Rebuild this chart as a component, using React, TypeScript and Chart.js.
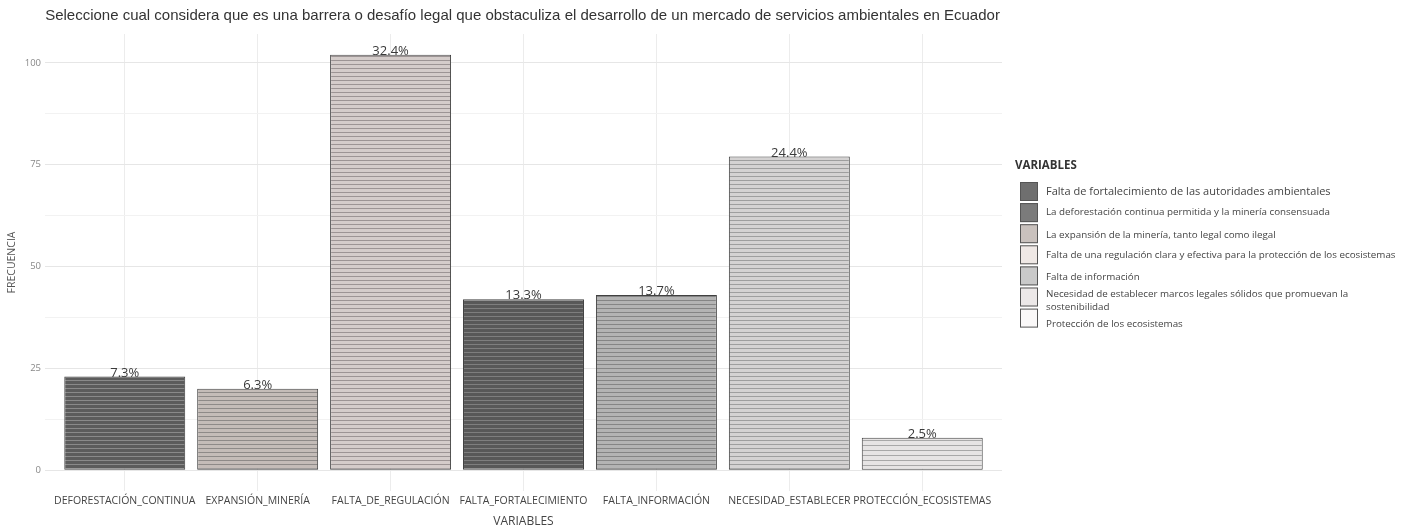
import React, { useEffect, useRef } from "react";
import { Chart, registerables } from "chart.js";

Chart.register(...registerables);

const TITLE =
  "Seleccione cual considera que es una barrera o desafío legal que obstaculiza el desarrollo de un mercado de servicios ambientales en Ecuador";

const categories = [
  "DEFORESTACIÓN_CONTINUA",
  "EXPANSIÓN_MINERÍA",
  "FALTA_DE_REGULACIÓN",
  "FALTA_FORTALECIMIENTO",
  "FALTA_INFORMACIÓN",
  "NECESIDAD_ESTABLECER",
  "PROTECCIÓN_ECOSISTEMAS",
];

const frequencies = [23, 20, 102, 42, 43, 77, 8];

const percentLabels = ["7.3%", "6.3%", "32.4%", "13.3%", "13.7%", "24.4%", "2.5%"];

const yTickValues = [0, 12.5, 25, 37.5, 50, 62.5, 75, 87.5, 100];

const legendTitle = "VARIABLES";

const legendLabels: string[][] = [
  ["Falta de fortalecimiento de las autoridades ambientales"],
  ["La deforestación continua permitida y la minería consensuada"],
  ["La expansión de la minería, tanto legal como ilegal"],
  ["Falta de una regulación clara y efectiva para la protección de los ecosistemas"],
  ["Falta de información"],
  ["Necesidad de establecer marcos legales sólidos que promuevan la", "sostenibilidad"],
  ["Protección de los ecosistemas"],
];

const legendColors = ["#6f6f6f", "#7b7b7b", "#c9c1bd", "#efe8e5", "#c9c9c9", "#ece8e8", "#faf8f8"];

// stripe palettes per bar: [base, line, period]
const barStripes: [string, string, number][] = [
  ["#5c5c5c", "#8a8a8a", 4],
  ["#c4bcb8", "#8e8a88", 4],
  ["#d4ccca", "#9c9494", 4],
  ["#585858", "#7e7e7e", 4],
  ["#b4b4b4", "#858585", 4],
  ["#d4d2d2", "#9e9e9e", 4],
  ["#e6e4e4", "#a8a8a8", 5],
];

function makePattern(ctx: CanvasRenderingContext2D, base: string, line: string, period: number) {
  const c = document.createElement("canvas");
  c.width = 4;
  c.height = period;
  const g = c.getContext("2d")!;
  g.fillStyle = base;
  g.fillRect(0, 0, 4, period);
  g.fillStyle = line;
  g.fillRect(0, 0, 4, 1);
  return ctx.createPattern(c, "repeat") as CanvasPattern;
}

const FONT = "'Open Sans', 'DejaVu Sans', sans-serif";

export default function App() {
  const ref = useRef<HTMLCanvasElement | null>(null);

  useEffect(() => {
    document.body.style.margin = "0";
    const canvas = ref.current!;
    const ctx = canvas.getContext("2d")!;
    const patterns = barStripes.map(([b, l, p]) => makePattern(ctx, b, l, p));

    const labelPlugin = {
      id: "pctLabels",
      afterDatasetsDraw(chart: any) {
        const meta = chart.getDatasetMeta(0);
        const c = chart.ctx;
        c.save();
        c.font = `13px ${FONT}`;
        c.fillStyle = "#3a3a3a";
        c.textAlign = "center";
        c.textBaseline = "bottom";
        meta.data.forEach((bar: any, i: number) => {
          c.fillText(percentLabels[i], bar.x, bar.y + 3);
        });
        c.restore();
      },
    };

    const titleAndLegendPlugin = {
      id: "titleAndLegend",
      afterDraw(chart: any) {
        const c = chart.ctx;
        c.save();
        // title
        c.font = "15px 'Liberation Sans', Arial, sans-serif";
        c.fillStyle = "#333";
        c.textAlign = "center";
        c.textBaseline = "middle";
        c.fillText(TITLE, 522.5, 16);
        // legend
        c.font = `bold 11.5px ${FONT}`;
        c.fillStyle = "#333";
        c.textAlign = "left";
        c.fillText(legendTitle, 1015, 166);
        const x0 = 1020;
        const y0 = 182;
        const step = 21.1;
        const sw = 18;
        const sh = 19;
        const textYs = [191.5, 212.5, 235, 255.5, 277.5, 294, 324];
        legendLabels.forEach((lines, i) => {
          const y = y0 + i * step;
          c.fillStyle = legendColors[i];
          c.fillRect(x0, y, sw, sh);
          c.strokeStyle = "#555";
          c.lineWidth = 1;
          c.strokeRect(x0 + 0.5, y + 0.5, sw - 1, sh - 1);
          c.fillStyle = "#444";
          c.font = i === 0 ? `11px ${FONT}` : `9.8px ${FONT}`;
          lines.forEach((t, j) => {
            c.fillText(t, 1046, textYs[i] + j * 13);
          });
        });
        c.restore();
      },
    };

    const chart = new Chart(canvas, {
      type: "bar",
      data: {
        datasets: [
          {
            data: frequencies.map((v, i) => ({ x: i + 1, y: v })),
            backgroundColor: patterns as any,
            borderColor: "#404040",
            borderWidth: 1,
            borderSkipped: false,
            categoryPercentage: 0.91,
            barPercentage: 1,
          },
        ],
      },
      options: {
        animation: false,
        responsive: false,
        maintainAspectRatio: false,
        layout: { padding: { left: 0, right: 400, top: 34, bottom: 0 } },
        plugins: {
          legend: { display: false },
          tooltip: { enabled: false },
          title: { display: false },
        },
        scales: {
          x: {
            type: "linear",
            min: 0.4,
            max: 7.6,
            offset: false,
            afterBuildTicks: (scale: any) => {
              scale.ticks = categories.map((_, i) => ({ value: i + 1 }));
            },
            afterFit: (scale: any) => {
              scale.height = 38;
            },
            grid: { color: "#ececec", drawTicks: false, lineWidth: 1, offset: false },
            border: { display: false },
            ticks: {
              padding: 4,
              color: "#444",
              font: { family: FONT, size: 10.5 },
              maxRotation: 0,
              autoSkip: false,
              callback: (v: any) => categories[Math.round(Number(v)) - 1] ?? "",
            },
            title: {
              display: true,
              text: "VARIABLES",
              color: "#444",
              font: { family: FONT, size: 12 },
              padding: { top: 0, bottom: 0 },
            },
          },
          y: {
            type: "linear",
            min: -5.1,
            max: 107.1,
            afterBuildTicks: (scale: any) => {
              scale.ticks = yTickValues.map((v) => ({ value: v }));
            },
            afterFit: (scale: any) => {
              scale.width = 45;
            },
            grid: {
              color: (c: any) => (c.tick && c.tick.value % 25 === 0 ? "#e6e6e6" : "#f2f2f2"),
              drawTicks: false,
            },
            border: { display: false },
            ticks: {
              padding: 4,
              color: "#888",
              font: { family: FONT, size: 9.5 },
              callback: (v: any) => (Number(v) % 25 === 0 ? String(v) : ""),
            },
            title: {
              display: true,
              text: "FRECUENCIA",
              color: "#555",
              font: { family: FONT, size: 10.5 },
              padding: { top: 6, bottom: 0 },
            },
          },
        },
      },
      plugins: [labelPlugin, titleAndLegendPlugin],
    });

    return () => chart.destroy();
  }, []);

  return (
    <div style={{ width: 1402, height: 529 }}>
      <canvas ref={ref} width={1402} height={529} style={{ display: "block" }} />
    </div>
  );
}
